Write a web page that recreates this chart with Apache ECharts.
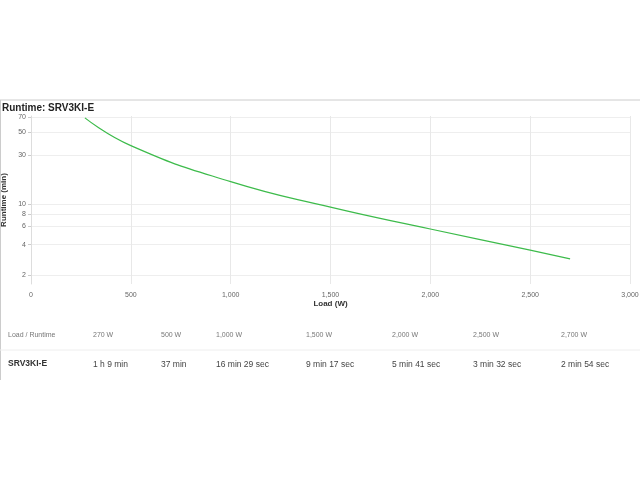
<!DOCTYPE html><html><head><meta charset="utf-8"><script src="https://cdn.jsdelivr.net/npm/echarts@6/dist/echarts.min.js"></script>
<style>html,body{margin:0;background:#fff}#c{width:640px;height:480px}</style></head><body><div id="c"></div><script>
const loads=[270,500,1000,1500,2000,2500,2700];
const runtimes=[69,37,16.48,9.28,5.68,3.53,2.9];
const runtimeLabels=['1 h 9 min','37 min','16 min 29 sec','9 min 17 sec','5 min 41 sec','3 min 32 sec','2 min 54 sec'];
const loadLabels=['270 W','500 W','1,000 W','1,500 W','2,000 W','2,500 W','2,700 W'];
const yTicks=[2,4,6,8,10,30,50,70];
const colX=[93,161,216,306,392,473,561];
const f='Arial, "Liberation Sans", sans-serif';
const g=[
 {type:'line',shape:{x1:0,y1:100,x2:640,y2:100},style:{stroke:'#ccc',lineWidth:1}},
 {type:'line',shape:{x1:0.5,y1:100,x2:0.5,y2:380},style:{stroke:'#ccc',lineWidth:1}},
 {type:'text',left:2,top:103,style:{text:'Runtime: SRV3KI-E',font:'bold 10px '+f,fill:'#222'}},
 {type:'text',left:8,top:332,style:{text:'Load / Runtime',font:'7px '+f,fill:'#777'}},
 {type:'line',shape:{x1:0,y1:350,x2:640,y2:350},style:{stroke:'#eee',lineWidth:1}},
 {type:'text',left:8,top:359,style:{text:'SRV3KI-E',font:'bold 8.5px '+f,fill:'#333'}}
];
loadLabels.forEach((t,i)=>g.push({type:'text',left:colX[i],top:332,style:{text:t,font:'7px '+f,fill:'#777'}}));
runtimeLabels.forEach((t,i)=>g.push({type:'text',left:colX[i],top:360,style:{text:t,font:'8.5px '+f,fill:'#444'}}));
const ch=echarts.init(document.getElementById('c'));
ch.setOption({animation:false,
 grid:{left:31,right:10,top:116,bottom:196,containLabel:false,outerBoundsMode:'none'},
 graphic:g,
 xAxis:{type:'value',min:0,max:3000,interval:500,name:'Load (W)',nameLocation:'middle',nameGap:16,
  nameTextStyle:{fontSize:8,fontWeight:'bold',color:'#333',fontFamily:f},
  axisLine:{show:false},axisTick:{show:false},
  axisLabel:{fontSize:7,color:'#666',fontFamily:f,formatter:v=>v.toLocaleString('en-US')},
  splitLine:{lineStyle:{color:'#e8e8e8'}}},
 yAxis:{type:'log',logBase:10,min:1.65,max:72,name:'Runtime (min)',nameLocation:'middle',nameGap:17,
  nameTextStyle:{fontSize:8,fontWeight:'bold',color:'#333',fontFamily:f},
  axisLine:{show:true,lineStyle:{color:'#ddd'}},axisTick:{show:true,customValues:yTicks,length:3,lineStyle:{color:'#ccc'}},
  axisLabel:{customValues:yTicks,fontSize:7,color:'#666',fontFamily:f,margin:5},
  splitLine:{show:true,lineStyle:{color:'#eee'}},minorSplitLine:{show:false}},
 series:[{type:'line',data:loads.map((x,i)=>[x,runtimes[i]]),smooth:true,showSymbol:false,
  lineStyle:{color:'#3dbb4b',width:1.2},itemStyle:{color:'#3dbb4b'}}]
});
</script></body></html>
